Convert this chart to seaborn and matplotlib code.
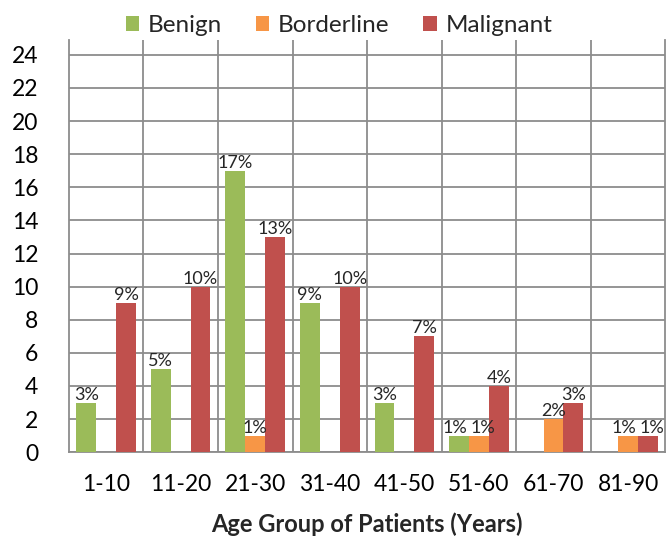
import matplotlib.pyplot as plt
import seaborn as sns
import pandas as pd

groups = ['1-10', '11-20', '21-30', '31-40', '41-50', '51-60', '61-70', '81-90']
benign = [3, 5, 17, 9, 3, 1, 0, 0]
borderline = [0, 0, 1, 0, 0, 1, 2, 1]
malignant = [9, 10, 13, 10, 7, 4, 3, 1]
series = ['Benign', 'Borderline', 'Malignant']
colors = ['#9BBB59', '#F79646', '#C0504D']

df = pd.DataFrame({
    'group': groups * 3,
    'type': [s for s in series for _ in groups],
    'count': benign + borderline + malignant,
})

sns.set_style('white')
plt.rcParams['font.family'] = ['Lato', 'DejaVu Sans']

fig = plt.figure(figsize=(6.68, 5.39), dpi=100)
ax = fig.add_axes([0.103, 0.161, 0.893, 0.765])

sns.barplot(data=df, x='group', y='count', hue='type', palette=colors,
            width=0.8, saturation=1, linewidth=0, edgecolor='none', ax=ax, zorder=3)

# percentage labels above non-zero bars
vals = [benign, borderline, malignant]
for k, cont in enumerate(ax.containers):
    labels = ['%d%%' % v if v > 0 else '' for v in cont.datavalues]
    texts = ax.bar_label(cont, labels=labels, fontsize=13, padding=0)
    # nudge labels apart where neighbouring bars have the same height
    for i, t in enumerate(texts):
        dx = 0
        if k > 0 and vals[k - 1][i] == vals[k][i] and vals[k][i] > 0:
            dx += 3
        if k < 2 and vals[k + 1][i] == vals[k][i] and vals[k][i] > 0:
            dx -= 3
        t.xyann = (dx, 0)

ax.set_xlim(-0.5, 7.5)
ax.set_ylim(0, 24.9)
ax.set_yticks(range(0, 25, 2))
ax.set_xticks([x + 0.5 for x in range(7)], minor=True)
ax.grid(axis='y', which='major', color='#8c8c8c', lw=1.3, zorder=0)
ax.grid(axis='x', which='minor', color='#8c8c8c', lw=1.3, zorder=0)
ax.grid(axis='x', which='major', visible=False)
ax.tick_params(axis='both', which='both', length=0, labelsize=16.5, colors='black')
ax.tick_params(axis='x', pad=16)
ax.tick_params(axis='y', pad=22)

for side in ['left', 'right', 'bottom']:
    ax.spines[side].set_color('#8c8c8c')
    ax.spines[side].set_linewidth(1.3)
ax.spines['top'].set_visible(False)

ax.set_xlabel('Age Group of Patients (Years)', fontsize=17, fontweight='bold', labelpad=12)
ax.set_ylabel('')

ax.legend(loc='lower center', bbox_to_anchor=(0.453, 0.985), ncol=3, frameon=False,
          fontsize=17.5, handlelength=0.55, handleheight=0.55, handletextpad=0.35,
          columnspacing=1.4, borderaxespad=0)

fig.savefig('out.png', dpi=100)
